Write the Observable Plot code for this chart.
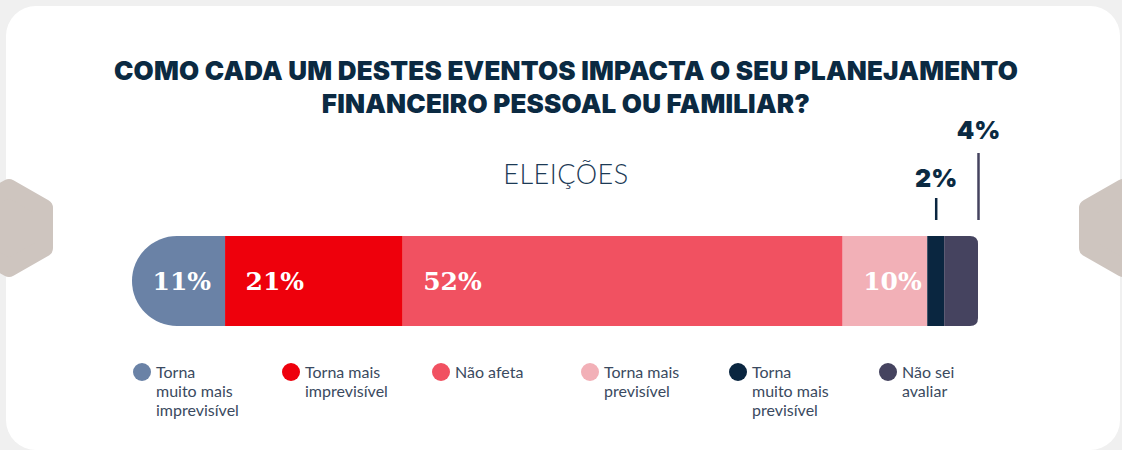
<!DOCTYPE html>
<html>
<head>
<meta charset="utf-8">
<script src="https://cdn.jsdelivr.net/npm/d3@7"></script>
<script src="https://cdn.jsdelivr.net/npm/@observablehq/plot@0.6"></script>
<style>
  html, body { margin: 0; padding: 0; }
  body { width: 1122px; height: 450px; background: #f0f0f0; position: relative; overflow: hidden; font-family: "Lato", "Open Sans", sans-serif; }
  #card { position: absolute; left: 6px; top: 6px; width: 1114px; height: 444px; background: #fff; border-radius: 30px; }
  #deco { position: absolute; left: 0; top: 0; }
  .title { position: absolute; left: 566px; transform: translateX(-50%); white-space: nowrap;
           font-family: "Inter", sans-serif; font-weight: 900; font-size: 26px; color: #0b2a42; letter-spacing: 0.2px; }
  #sub { position: absolute; left: 566px; top: 157px; transform: translateX(-50%); white-space: nowrap;
         font-family: "Lato", sans-serif; font-weight: 300; font-size: 27px; color: #1c3a55; letter-spacing: 0.5px; }
  #chart { position: absolute; left: 0; top: 110px; }
  .leg { position: absolute; top: 362px; font-family: "Lato", sans-serif; font-size: 16px; line-height: 19px; color: #3a4a60; }
  .leg .dot { position: absolute; width: 18px; height: 18px; border-radius: 50%; left: -23px; top: 1px; }
</style>
</head>
<body>
<div id="card"></div>
<svg id="deco" width="1122" height="450">
  <polygon points="9,188 44,208 44,248 9,268 -26,248 -26,208" fill="#cec5bf" stroke="#cec5bf" stroke-width="18" stroke-linejoin="round"/>
  <polygon points="1123,188 1158,208 1158,248 1123,268 1088,248 1088,208" fill="#cec5bf" stroke="#cec5bf" stroke-width="18" stroke-linejoin="round"/>
</svg>
<div class="title" style="top:55px">COMO CADA UM DESTES EVENTOS IMPACTA O SEU PLANEJAMENTO</div>
<div class="title" style="top:88px">FINANCEIRO PESSOAL OU FAMILIAR?</div>
<div id="sub">ELEIÇÕES</div>
<div id="chart"></div>
<div id="legend"></div>
<script>
// ---- data ----
const categories = ["Torna muito mais imprevisível", "Torna mais imprevisível", "Não afeta", "Torna mais previsível", "Torna muito mais previsível", "Não sei avaliar"];
const legendLines = [["Torna", "muito mais", "imprevisível"], ["Torna mais", "imprevisível"], ["Não afeta"], ["Torna mais", "previsível"], ["Torna", "muito mais", "previsível"], ["Não sei", "avaliar"]];
const values = [11, 21, 52, 10, 2, 4];
const colors = ["#6a82a6", "#ee000c", "#f15161", "#f2b0b7", "#0a2640", "#45435f"];
const ruleColors = ["#0a2640", "#45435f"];

// ---- derived table ----
const cum = d3.cumsum(values);
const rows = categories.map((c, i) => ({category: c, value: values[i], start: cum[i] - values[i], end: cum[i], i}));
const inside = rows.filter(d => d.value >= 10);
const outside = rows.filter(d => d.value < 10);
const lastRow = rows[rows.length - 1];
const ox = d => d === lastRow ? d.end : (d.start + d.end) / 2;

const W = 1122, H = 230;
const marks = [
  Plot.barX(rows, {x1: "start", x2: "end", fill: "category", insetTop: 126}),
  Plot.text(inside, {x: "start", text: d => d.value + "%", frameAnchor: "bottom", dy: -45, dx: 20,
    textAnchor: "start", fill: "white", fontSize: 25, fontWeight: "bold", fontFamily: "DejaVu Serif", lineAnchor: "middle"})
];
outside.forEach((d, k) => {
  const lift = 45 * k;
  marks.push(Plot.ruleX([d], {x: ox, stroke: ruleColors[k], strokeWidth: 2.5, insetTop: 88 - lift, insetBottom: 106}));
  marks.push(Plot.text([d], {x: ox, text: e => e.value + "%", frameAnchor: "top", dy: 68 - 48 * k,
    fill: "#0b2a42", fontSize: 25, fontWeight: 900, fontFamily: "Inter", lineAnchor: "middle", textAnchor: "middle"}));
});

const plot = Plot.plot({
  width: W, height: H,
  marginLeft: 132, marginRight: W - 978, marginTop: 0, marginBottom: 14,
  x: {domain: [0, 100], axis: null},
  color: {domain: categories, range: colors},
  style: {background: "transparent", overflow: "visible"},
  marks
});

// rounded ends of the bar (left half-circle cap, right small radius)
const sx = plot.scale("x");
const bx0 = sx.apply(0), bx1 = sx.apply(100);
const bTop = 126, bBot = H - 14, br = (bBot - bTop) / 2, rr = 8;
const ns = "http://www.w3.org/2000/svg";
const defs = document.createElementNS(ns, "defs");
const cp = document.createElementNS(ns, "clipPath");
cp.setAttribute("id", "barclip");
const p = document.createElementNS(ns, "path");
p.setAttribute("d", `M${bx0 + br},${bTop} H${bx1 - rr} Q${bx1},${bTop} ${bx1},${bTop + rr} V${bBot - rr} Q${bx1},${bBot} ${bx1 - rr},${bBot} H${bx0 + br} A${br},${br} 0 0 1 ${bx0 + br},${bTop} Z`);
cp.appendChild(p);
defs.appendChild(cp);
plot.insertBefore(defs, plot.firstChild);
const barG = plot.querySelector('g[aria-label="bar"]');
if (barG) barG.setAttribute("clip-path", "url(#barclip)");
document.getElementById("chart").appendChild(plot);

// ---- legend ----
const legX = [156, 305, 455, 604, 752, 902];
const leg = document.getElementById("legend");
categories.forEach((c, i) => {
  const div = document.createElement("div");
  div.className = "leg";
  div.style.left = legX[i] + "px";
  div.innerHTML = `<span class="dot" style="background:${colors[i]}"></span>` + legendLines[i].join("<br>");
  leg.appendChild(div);
});
</script>
</body>
</html>
